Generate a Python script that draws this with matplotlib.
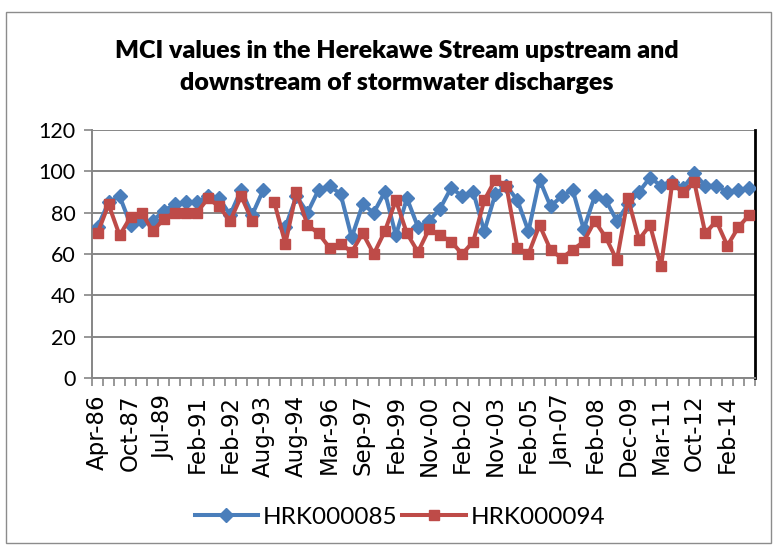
import numpy as np
import matplotlib
matplotlib.use("Agg")
import matplotlib.pyplot as plt
from matplotlib.patches import Rectangle

title = "MCI values in the Herekawe Stream upstream and\ndownstream of stormwater discharges"
tick_labels = ["Apr-86", "Oct-87", "Jul-89", "Feb-91", "Feb-92", "Aug-93", "Aug-94",
               "Mar-96", "Sep-97", "Feb-99", "Nov-00", "Feb-02", "Nov-03", "Feb-05",
               "Jan-07", "Feb-08", "Dec-09", "Mar-11", "Oct-12", "Feb-14"]
label_step = 3
n_categories = 60

nan = np.nan
hrk085 = [73, 85, 88, 74, 76, 76, 81, 84, 85, 85, 88, 87, 79, 91, 79, 91, nan, 73, 88, 80,
          91, 93, 89, 68, 84, 80, 90, 69, 87, 73, 76, 82, 92, 88, 90, 71, 89, 93, 86, 71,
          96, 83, 88, 91, 72, 88, 86, 76, 84, 90, 97, 93, 95, 92, 99, 93, 93, 90, 91, 92]
hrk094 = [70, 84, 69, 78, 80, 71, 77, 80, 80, 80, 87, 83, 76, 88, 76, nan, 85, 65, 90, 74,
          70, 63, 65, 61, 70, 60, 71, 86, 70, 61, 72, 69, 66, 60, 66, 86, 96, 93, 63, 60,
          74, 62, 58, 62, 66, 76, 68, 57, 87, 67, 74, 54, 94, 90, 95, 70, 76, 64, 73, 79]
series_names = ["HRK000085", "HRK000094"]

blue = "#4A7EBB"
red = "#BE4B48"
grid_c = "#868686"

fig = plt.figure(figsize=(7.73, 5.46), dpi=100)
fig.patches.append(Rectangle((6/773, 1-543/546), 765/773, (543-12)/546,
                             transform=fig.transFigure, fill=False,
                             edgecolor="#8C8C8C", linewidth=1.0))
ax = fig.add_axes([92/773, 1-378/546, (755-92)/773, (378-130)/546])

x = np.arange(n_categories)
ax.plot(x, hrk085, color=blue, linewidth=2.9, marker="D", markersize=7.5,
        markeredgecolor=blue, label=series_names[0], zorder=3)
ax.plot(x, hrk094, color=red, linewidth=2.9, marker="s", markersize=7,
        markeredgecolor=red, label=series_names[1], zorder=4)

ax.set_xlim(-0.5, n_categories - 0.5)
ax.set_ylim(0, 120)
ax.set_yticks(np.arange(0, 121, 20))
ax.yaxis.grid(True, color=grid_c, linewidth=1.4)
ax.set_axisbelow(True)

ax.set_xticks(np.arange(0, n_categories, label_step))
ax.set_xticklabels(tick_labels, rotation=90, fontsize=16.5, family="DejaVu Sans")
ax.set_xticks(np.arange(-0.5, n_categories, 1), minor=True)
ax.tick_params(axis="x", which="major", length=0, pad=12)
ax.tick_params(axis="x", which="minor", length=6, width=1.2, color=grid_c, direction="out")
ax.tick_params(axis="y", length=6, width=1.2, color=grid_c, pad=6)
for lab in ax.get_yticklabels():
    lab.set_fontsize(15.5)
    lab.set_family("Lato")

ax.spines["top"].set_visible(False)
ax.spines["left"].set_color(grid_c)
ax.spines["left"].set_linewidth(1.4)
ax.spines["bottom"].set_color(grid_c)
ax.spines["bottom"].set_linewidth(1.4)
ax.spines["right"].set_color("black")
ax.spines["right"].set_linewidth(2.0)

fig.text(397/773, 1-67/546, title, ha="center", va="center", fontsize=18,
         fontweight="heavy", family="Lato", linespacing=1.55)

fig.legend(loc="center", bbox_to_anchor=(400/773, 1-517/546), ncol=2,
           frameon=False, prop={"family": "Lato", "size": 17.5},
           handlelength=2.6, columnspacing=0.2, handletextpad=0.2)

fig.savefig("out.png", dpi=100)
